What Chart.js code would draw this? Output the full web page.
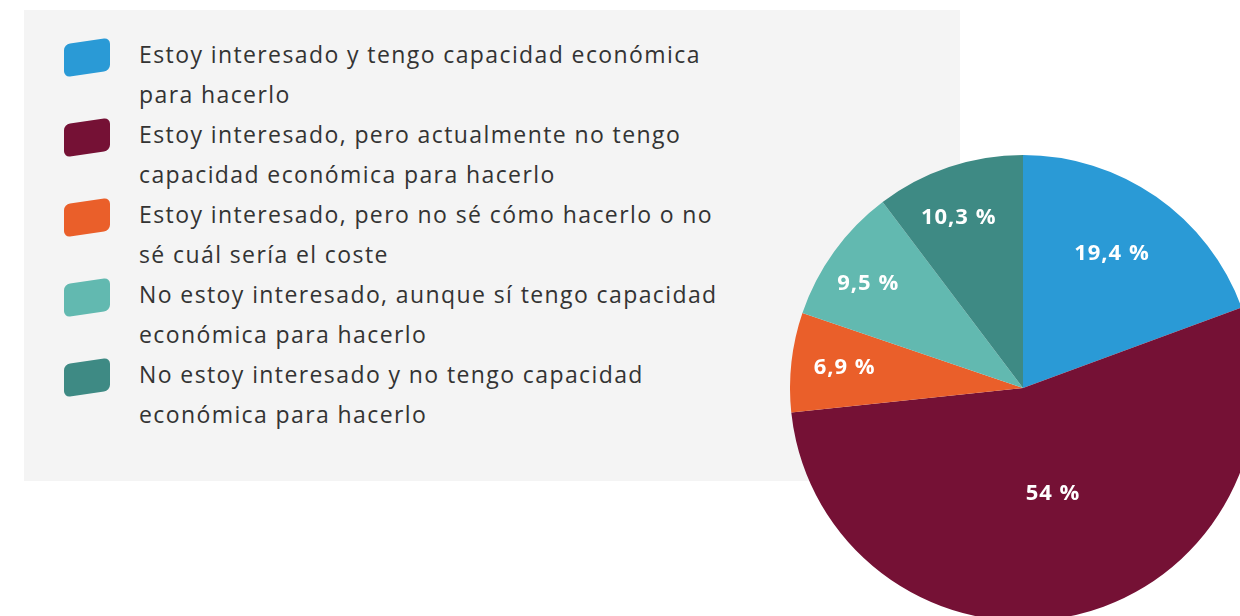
<!DOCTYPE html>
<html>
<head>
<meta charset="utf-8">
<script src="https://cdn.jsdelivr.net/npm/chart.js@4"></script>
<style>
    html, body { margin: 0; padding: 0; width: 1240px; height: 616px; overflow: hidden; background: #fff; }
    #panel { position: absolute; left: 24px; top: 10px; width: 936px; height: 471px; background: #f4f4f4; }
    #legend { position: absolute; left: 39px; top: 24px; list-style: none; margin: 0; padding: 0; }
    #legend li { position: relative; height: 80px; padding-left: 76px; font-family: "Open Sans", sans-serif; font-size: 23px; letter-spacing: 1.4px; line-height: 40px; color: #333; }
    #legend .sw { position: absolute; left: 1px; top: 7px; width: 46px; height: 33px; border-radius: 6px; transform: skewY(-8deg); }
    #pieBox { position: absolute; left: 790px; top: 155px; width: 466px; height: 466px; }
</style>
</head>
<body>
<div id="panel"><ul id="legend"></ul></div>
<div id="pieBox"><canvas id="tarta"></canvas></div>
<script>
const labels = [
    ['Estoy interesado y tengo capacidad económica', 'para hacerlo'],
    ['Estoy interesado, pero actualmente no tengo', 'capacidad económica para hacerlo'],
    ['Estoy interesado, pero no sé cómo hacerlo o no', 'sé cuál sería el coste'],
    ['No estoy interesado, aunque sí tengo capacidad', 'económica para hacerlo'],
    ['No estoy interesado y no tengo capacidad', 'económica para hacerlo']
];
const valores = [19.4, 54, 6.9, 9.5, 10.3];
const colores = ['#2a9ad6', '#751135', '#ea5f2a', '#62b9b0', '#3e8a84'];
// where each label sits: share of the radius, and a small turn in degrees
const radioEtiqueta = [0.69, 0.47, 0.77, 0.80, 0.78];
const giroEtiqueta = [-1.3, -2.8, 0, -2, -2.2];

// legend in the grey panel
for (let i = 0; i < labels.length; i++) {
    const li = document.createElement('li');
    const sw = document.createElement('span');
    sw.className = 'sw';
    sw.style.background = colores[i];
    li.appendChild(sw);
    li.innerHTML += labels[i].join('<br>');
    document.getElementById('legend').appendChild(li);
}

const etiquetas = {
    id: 'etiquetas',
    afterDatasetsDraw(chart) {
        const ctx = chart.ctx;
        const arcs = chart.getDatasetMeta(0).data;
        ctx.save();
        ctx.fillStyle = '#fff';
        ctx.font = 'bold 22px "Open Sans", sans-serif';
        ctx.letterSpacing = '1px';
        ctx.textAlign = 'center';
        ctx.textBaseline = 'middle';
        arcs.forEach(function(arc, i) {
            const mid = (arc.startAngle + arc.endAngle) / 2 + giroEtiqueta[i] * Math.PI / 180;
            const r = arc.outerRadius * radioEtiqueta[i];
            const txt = String(valores[i]).replace('.', ',') + ' %';
            ctx.fillText(txt, arc.x + Math.cos(mid) * r, arc.y + Math.sin(mid) * r);
        });
        ctx.restore();
    }
};

const config = {
    type: 'pie',
    data: {
        labels: labels,
        datasets: [{
            data: valores,
            backgroundColor: colores,
            borderWidth: 0
        }]
    },
    options: {
        responsive: true,
        maintainAspectRatio: false,
        animation: false,
        layout: { padding: 0 },
        plugins: {
            legend: { display: false },
            tooltip: { enabled: false }
        }
    },
    plugins: [etiquetas]
};

new Chart(document.getElementById('tarta'), config);
</script>
</body>
</html>
